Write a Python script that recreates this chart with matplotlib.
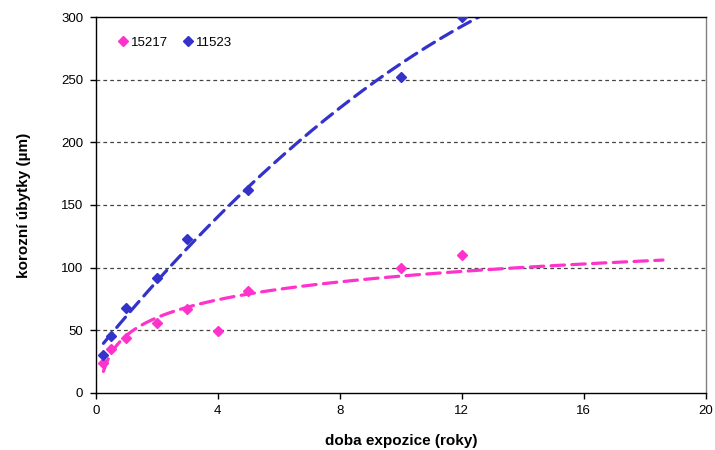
import numpy as np
import matplotlib.pyplot as plt

plt.rcParams['font.family'] = ['Liberation Sans', 'DejaVu Sans']

# data
x_15217 = [0.25, 0.5, 1, 2, 3, 4, 5, 10, 12]
y_15217 = [24, 35, 44, 56, 67, 49, 81, 100, 110]

x_11523 = [0.25, 0.5, 1, 2, 3, 5, 10, 12]
y_11523 = [30, 45, 68, 92, 123, 162, 252, 300]

pink = '#FF33CC'
blue = '#3333CC'

fig = plt.figure(figsize=(7.15, 4.5), dpi=100)
ax = fig.add_axes([0.134, 0.127, 0.853, 0.835])

# trend lines: logarithmic for 15217, polynomial (2nd order) for 11523
a, b = np.polyfit(np.log(x_15217), y_15217, 1)
xt = np.linspace(0.25, 18.6, 200)
ax.plot(xt, a * np.log(xt) + b, color=pink, lw=2.3, dashes=(4.2, 2.3),
        dash_capstyle='round', zorder=2)

p = np.polyfit(x_11523, y_11523, 2)
xt2 = np.linspace(0.25, 14, 200)
ax.plot(xt2, np.polyval(p, xt2), color=blue, lw=2.3, dashes=(4.2, 2.3),
        dash_capstyle='round', zorder=2)

ax.plot(x_15217, y_15217, 'D', color=pink, ms=4.8, ls='none', label='15217', zorder=3)
ax.plot(x_11523, y_11523, 'D', color=blue, ms=4.8, ls='none', label='11523', zorder=3)

ax.set_xlim(0, 20)
ax.set_ylim(0, 300)
ax.set_xticks(range(0, 21, 4))
ax.set_yticks(range(0, 301, 50))
ax.tick_params(labelsize=9.5, direction='out', length=4, width=1, pad=5)

for yy in range(50, 300, 50):
    ax.axhline(yy, color='#444444', lw=0.9, ls=(0, (3, 2.5)), zorder=1)

for s in ax.spines.values():
    s.set_color('black')
    s.set_linewidth(1)
ax.spines['right'].set_color('#808080')

ax.set_xlabel('doba expozice (roky)', fontsize=11, fontweight='bold', labelpad=12)
ax.set_ylabel('korozní úbytky (µm)', fontsize=11, fontweight='bold', labelpad=22)

ax.legend(loc='upper left', bbox_to_anchor=(0.015, 0.98), ncol=2, frameon=False,
          fontsize=9.5, handletextpad=0.1, columnspacing=1.0, handlelength=1.0)

fig.savefig('out.png', dpi=100)
